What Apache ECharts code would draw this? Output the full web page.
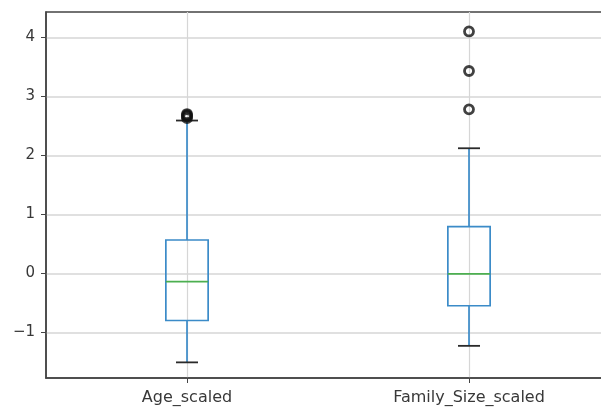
<!DOCTYPE html>
<html>
<head>
<meta charset="utf-8">
<script src="https://cdn.jsdelivr.net/npm/echarts@6/dist/echarts.min.js"></script>
<style>
  html, body { margin: 0; padding: 0; background: #fff; overflow: hidden; }
  #chart { width: 601px; height: 410px; }
</style>
</head>
<body>
<div id="chart"></div>
<script>
// Column names and five-number summaries for each scaled feature
const categories = ['Age_scaled', 'Family_Size_scaled'];
const lowerWhisker = [-1.51, -1.23];
const q1 = [-0.80, -0.55];
const median = [-0.14, -0.01];
const q3 = [0.565, 0.79];
const upperWhisker = [2.59, 2.12];
// Points beyond the whiskers
const outliersAge = [2.63, 2.66, 2.68, 2.70];
const outliersFamily = [2.78, 3.43, 4.10];
const yTicks = [-1, 0, 1, 2, 3, 4];

const BOX_W = 0.15;   // box width in x units
const CAP_W = 0.078;  // whisker cap width in x units
const BLUE = '#3b8bc8';
const GREEN = '#4caf50';
const TXT = '#383838';
const GRIDC = '#d6d6d6';

const boxData = categories.map((c, i) => [i + 1, lowerWhisker[i], q1[i], median[i], q3[i], upperWhisker[i]]);
const outlierData = []
  .concat(outliersAge.map(v => [1, v]))
  .concat(outliersFamily.map(v => [2, v]));

function minusFmt(v) { return String(v).replace('-', '\u2212'); }

function renderBox(params, api) {
  const x = api.value(0);
  const lo = api.value(1), a = api.value(2), m = api.value(3), b = api.value(4), hi = api.value(5);
  const pL = api.coord([x - BOX_W / 2, b]);
  const pR = api.coord([x + BOX_W / 2, a]);
  const c = api.coord([x, m]);
  const pLo = api.coord([x, lo]);
  const pHi = api.coord([x, hi]);
  const pQ1 = api.coord([x, a]);
  const pQ3 = api.coord([x, b]);
  const capL = api.coord([x - CAP_W / 2, 0])[0];
  const capR = api.coord([x + CAP_W / 2, 0])[0];
  const lineStyle = { stroke: BLUE, lineWidth: 1.7, fill: null };
  return {
    type: 'group',
    children: [
      { type: 'line', shape: { x1: c[0], y1: pQ1[1], x2: c[0], y2: pLo[1] }, style: lineStyle },
      { type: 'line', shape: { x1: c[0], y1: pQ3[1], x2: c[0], y2: pHi[1] }, style: lineStyle },
      { type: 'rect', shape: { x: pL[0], y: pL[1], width: pR[0] - pL[0], height: pR[1] - pL[1] }, style: lineStyle },
      { type: 'line', shape: { x1: pL[0], y1: c[1], x2: pR[0], y2: c[1] }, style: { stroke: GREEN, lineWidth: 1.7 } },
      { type: 'line', shape: { x1: capL, y1: pLo[1], x2: capR, y2: pLo[1] }, style: { stroke: '#2a2a2a', lineWidth: 1.8 } },
      { type: 'line', shape: { x1: capL, y1: pHi[1], x2: capR, y2: pHi[1] }, style: { stroke: '#2a2a2a', lineWidth: 1.8 } }
    ]
  };
}

const chart = echarts.init(document.getElementById('chart'), null, { renderer: 'canvas' });
chart.setOption({
  animation: false,
  backgroundColor: '#fff',
  grid: {
    left: 46, right: -9, top: 12, bottom: 32,
    outerBoundsMode: 'none',
    containLabel: false,
    show: true, borderColor: '#444', borderWidth: 1.5, backgroundColor: 'transparent'
  },
  xAxis: {
    type: 'value', min: 0.5, max: 2.5,
    axisLine: { show: true, onZero: false, lineStyle: { color: '#444', width: 1.5 } },
    axisTick: { show: true, customValues: [1, 2], length: 5, lineStyle: { color: '#444' } },
    axisLabel: {
      customValues: [1, 2], color: TXT, fontSize: 16, fontFamily: 'DejaVu Sans', margin: 12,
      formatter: v => categories[Math.round(v) - 1]
    },
    splitLine: { show: true, lineStyle: { color: GRIDC, width: 1.2 } }
  },
  yAxis: {
    type: 'value', min: -1.775, max: 4.43,
    axisLine: { show: true, onZero: false, lineStyle: { color: '#444', width: 1.5 } },
    axisTick: { show: true, customValues: yTicks, length: 5, lineStyle: { color: '#444' } },
    axisLabel: {
      customValues: yTicks, color: TXT, fontSize: 15, fontFamily: 'DejaVu Sans', margin: 11,
      formatter: minusFmt
    },
    splitLine: { show: true, lineStyle: { color: GRIDC, width: 1.5 } }
  },
  series: [
    {
      type: 'custom',
      renderItem: renderBox,
      data: boxData,
      encode: { x: 0, y: [1, 2, 3, 4, 5] },
      z: 3
    },
    {
      type: 'scatter',
      data: outlierData,
      symbol: 'circle',
      symbolSize: 9,
      itemStyle: { color: 'transparent', borderColor: '#111', borderWidth: 2.8 },
      z: 4
    }
  ]
});
</script>
</body>
</html>
